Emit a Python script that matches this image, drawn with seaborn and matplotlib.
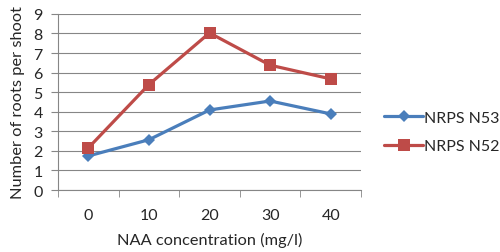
import seaborn as sns
import matplotlib.pyplot as plt
import pandas as pd

# dados
concentracoes = ["0", "10", "20", "30", "40"]
n53 = [1.74, 2.57, 4.09, 4.55, 3.89]
n52 = [2.15, 5.39, 8.03, 6.38, 5.68]
series = ["NRPS N53", "NRPS N52"]

df = pd.DataFrame({
    "pos": list(range(len(concentracoes))) * 2,
    "valor": n53 + n52,
    "serie": [series[0]] * len(n53) + [series[1]] * len(n52),
})

sns.set_style("white")
plt.rcParams["font.family"] = ["Lato", "DejaVu Sans"]

fig = plt.figure(figsize=(5, 2.53), dpi=100)
ax = fig.add_axes([0.116, 0.245, 0.606, 0.696])

cores = {"NRPS N53": "#4A7EBB", "NRPS N52": "#BE4B48"}
marcadores = {"NRPS N53": "D", "NRPS N52": "s"}
tamanhos = {"NRPS N53": 6.5, "NRPS N52": 8.5}

for s in series:
    sns.lineplot(
        data=df[df["serie"] == s], x="pos", y="valor",
        color=cores[s], marker=marcadores[s], markersize=tamanhos[s],
        markeredgewidth=0, linewidth=2.3, label=s, ax=ax,
    )

ax.set_xlim(-0.5, len(concentracoes) - 0.5)
ax.set_ylim(0, 9)
ax.set_yticks(range(0, 10))
ax.set_xticks(range(len(concentracoes)))
ax.set_xticklabels(concentracoes)
ax.set_xticks([i - 0.5 for i in range(len(concentracoes) + 1)], minor=True)
ax.tick_params(axis="x", which="major", length=0, labelsize=11.5, pad=13)
ax.tick_params(axis="x", which="minor", length=5, color="#868686", direction="out", bottom=True)
ax.tick_params(axis="y", length=5, color="#868686", labelsize=11.5, direction="out", left=True, pad=6)
ax.grid(axis="y", color="#868686", linewidth=0.8)
ax.set_axisbelow(True)
for lado in ["top", "right"]:
    ax.spines[lado].set_visible(False)
for lado in ["left", "bottom"]:
    ax.spines[lado].set_color("#868686")
    ax.spines[lado].set_linewidth(0.8)

ax.set_xlabel("NAA concentration (mg/l)", fontsize=11.8, labelpad=7)
ax.set_ylabel("Number of roots per shoot", fontsize=11.8, labelpad=6)

ax.legend(loc="center left", bbox_to_anchor=(1.03, 0.33), frameon=False,
          fontsize=11.5, handlelength=2.4, handletextpad=0.05, labelspacing=0.9)

fig.savefig("out.png", dpi=100)
